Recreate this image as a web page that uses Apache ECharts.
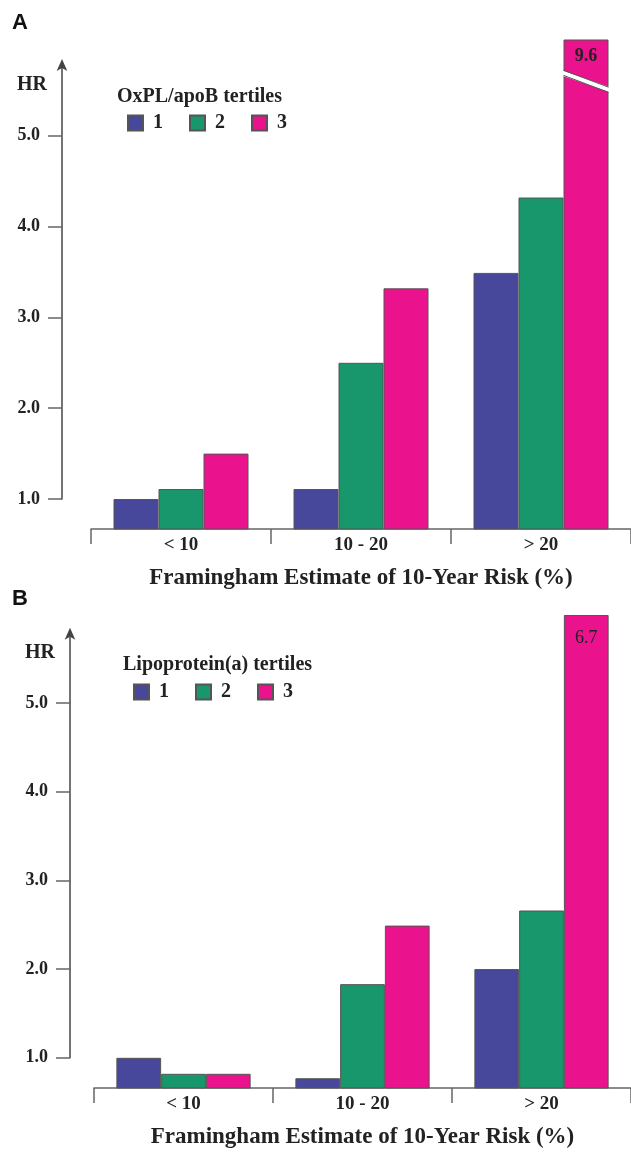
<!DOCTYPE html>
<html>
<head>
<meta charset="utf-8">
<script src="https://cdn.jsdelivr.net/npm/echarts@6/dist/echarts.min.js"></script>
<style>
  html, body { margin: 0; padding: 0; background: #fff; }
  #chart { width: 631px; height: 1153px; }
</style>
</head>
<body>
<div id="chart"></div>
<script>
// ---- data ----
const categories = ['< 10', '10 - 20', '> 20'];
const tertiles = ['1', '2', '3'];
const yTicks = [1.0, 2.0, 3.0, 4.0, 5.0];

// Panel A: OxPL/apoB tertiles
const hrA1 = [1.00, 1.11, 3.49];
const hrA2 = [1.11, 2.50, 4.32];
const hrA3 = [1.50, 3.32, 9.6];

// Panel B: Lipoprotein(a) tertiles
const hrB1 = [1.00, 0.77, 2.00];
const hrB2 = [0.82, 1.83, 2.66];
const hrB3 = [0.82, 2.49, 6.7];

const legendTitleA = 'OxPL/apoB tertiles';
const legendTitleB = 'Lipoprotein(a) tertiles';
const xTitle = 'Framingham Estimate of 10-Year Risk (%)';

// ---- style / layout ----
const colors = ['#47479b', '#17976b', '#ea128d'];
const SERIF = '"Liberation Serif", "Times New Roman", serif';
const SANS = '"Liberation Sans", Arial, sans-serif';
const TXT = '#222';
const AXC = '#666';
const CAT_GAP = 0.25;

const H = 1153;
const panels = [
  { key: 'A', data: [hrA1, hrA2, hrA3], legendTitle: legendTitleA, broken: true,
    barTop: 39.5, base: 529, yMin: 0.67, yMax: 6.06, axisTopVal: 5.8,
    axisX: 62, gridLeft: 91, gridWidth: 540,
    letterY: 23, hrX: 47, hrY: 85, legTitleX: 117, legTitleY: 97, legX: 122, legY: 118,
    labelDist: 8, labelBold: 'bold', breakLevel: 5.6 },
  { key: 'B', data: [hrB1, hrB2, hrB3], legendTitle: legendTitleB, broken: false,
    barTop: 615, base: 1088, yMin: 0.66, yMax: 5.99, axisTopVal: 5.8,
    axisX: 70, gridLeft: 94, gridWidth: 540,
    letterY: 599, hrX: 55, hrY: 653, legTitleX: 123, legTitleY: 665, legX: 128, legY: 687,
    labelDist: 14, labelBold: 'normal', breakLevel: null }
];

const grid = [], xAxis = [], yAxis = [], series = [], legend = [], graphic = [];

function renderBreak(params, api) {
  const c = api.coord([api.value(0), api.value(1)]);
  const band = api.size([1, 0])[0];
  const bw = band * (1 - CAT_GAP) / 3;
  const x0 = c[0] + bw * 0.5, x1 = c[0] + bw * 1.5;
  const slope = 8.5, t = 2.6;
  return {
    type: 'group',
    children: [
      { type: 'polygon', shape: { points: [[x0 - 2, c[1] - slope - t], [x1 + 2, c[1] + slope - t], [x1 + 2, c[1] + slope + t], [x0 - 2, c[1] - slope + t]] },
        style: { fill: '#fff' } },
      { type: 'line', shape: { x1: x0, y1: c[1] - slope - t, x2: x1, y2: c[1] + slope - t }, style: { stroke: '#555', lineWidth: 1 } },
      { type: 'line', shape: { x1: x0, y1: c[1] - slope + t, x2: x1, y2: c[1] + slope + t }, style: { stroke: '#555', lineWidth: 1 } }
    ]
  };
}

panels.forEach((p, pi) => {
  const unit = (p.base - p.barTop) / (p.yMax - p.yMin);
  const onePx = p.base - (1 - p.yMin) * unit;
  const axisTopPx = p.base - (p.axisTopVal - p.yMin) * unit;
  const gBar = pi * 2, gAx = pi * 2 + 1;

  grid.push({ left: p.gridLeft, width: p.gridWidth, top: p.barTop, bottom: H - p.base, containLabel: false });
  grid.push({ left: p.axisX, width: 10, top: axisTopPx, height: onePx - axisTopPx, containLabel: false });

  xAxis.push({
    type: 'category', gridIndex: gBar, data: categories, boundaryGap: true,
    axisLine: { show: true, lineStyle: { color: AXC, width: 1.5 } },
    axisTick: { show: true, length: 15, alignWithLabel: false, lineStyle: { color: AXC, width: 1.5 } },
    axisLabel: { margin: 7, color: TXT, fontFamily: SERIF, fontWeight: 'bold', fontSize: 19 },
    name: xTitle, nameLocation: 'middle', nameGap: 38,
    nameTextStyle: { color: TXT, fontFamily: SERIF, fontWeight: 'bold', fontSize: 23 }
  });
  xAxis.push({ type: 'value', gridIndex: gAx, show: false, min: 0, max: 1 });

  yAxis.push({ type: 'value', gridIndex: gBar, min: p.yMin, max: p.yMax, show: false, splitLine: { show: false } });
  yAxis.push({
    type: 'value', gridIndex: gAx, min: 1, max: p.axisTopVal, position: 'left',
    splitLine: { show: false },
    axisLine: { show: true, symbol: ['none', 'arrow'], symbolSize: [8, 12], symbolOffset: [0, 4],
      lineStyle: { color: '#444', width: 1.5 } },
    axisTick: { show: true, length: 14, inside: false, customValues: yTicks, lineStyle: { color: AXC, width: 1.5 } },
    axisLabel: { show: true, margin: 22, customValues: yTicks, color: TXT, fontFamily: SERIF, fontWeight: 'bold', fontSize: 18,
      formatter: v => Number(v).toFixed(1) }
  });

  p.data.forEach((arr, si) => {
    series.push({
      type: 'bar', name: tertiles[si], xAxisIndex: gBar, yAxisIndex: gBar,
      barGap: '0%', barCategoryGap: (CAT_GAP * 100) + '%',
      itemStyle: { color: colors[si], borderColor: '#555', borderWidth: 1 },
      data: arr.map(v => ({
        value: Math.min(v, p.yMax), raw: v,
        label: v > p.yMax ? { show: true } : { show: false }
      })),
      label: {
        show: false, position: 'insideTop', distance: p.labelDist,
        color: TXT, fontFamily: SERIF, fontWeight: p.labelBold, fontSize: 18,
        formatter: prm => String(prm.data.raw)
      },
      emphasis: { disabled: true }, animation: false
    });
  });

  if (p.broken) {
    const last = p.data[2];
    series.push({
      type: 'custom', xAxisIndex: gBar, yAxisIndex: gBar, z: 5, silent: true, animation: false,
      renderItem: renderBreak,
      data: last.map((v, i) => v > p.yMax ? [i, p.breakLevel] : null).filter(d => d)
    });
  }

  legend.push({
    data: tertiles, left: p.legX, top: p.legY - 10, orient: 'horizontal',
    itemWidth: 15, itemHeight: 15, itemGap: 26, icon: 'rect', selectedMode: false,
    textStyle: { color: TXT, fontFamily: SERIF, fontWeight: 'bold', fontSize: 20, padding: [0, 0, 0, 5] }
  });

  graphic.push({ type: 'text', left: 12, top: p.letterY - 11,
    style: { text: p.key, fill: '#111', font: 'bold 22px ' + SANS } });
  graphic.push({ type: 'text', x: p.hrX, y: p.hrY,
    style: { text: 'HR', fill: TXT, font: 'bold 20px ' + SERIF, textAlign: 'right', textVerticalAlign: 'middle' } });
  graphic.push({ type: 'text', x: p.legTitleX, y: p.legTitleY,
    style: { text: p.legendTitle, fill: TXT, font: 'bold 20px ' + SERIF, textAlign: 'left', textVerticalAlign: 'middle' } });
});

const chart = echarts.init(document.getElementById('chart'), null, { renderer: 'canvas' });
chart.setOption({
  backgroundColor: '#fff',
  animation: false,
  grid, xAxis, yAxis, series, legend, graphic
});
</script>
</body>
</html>
